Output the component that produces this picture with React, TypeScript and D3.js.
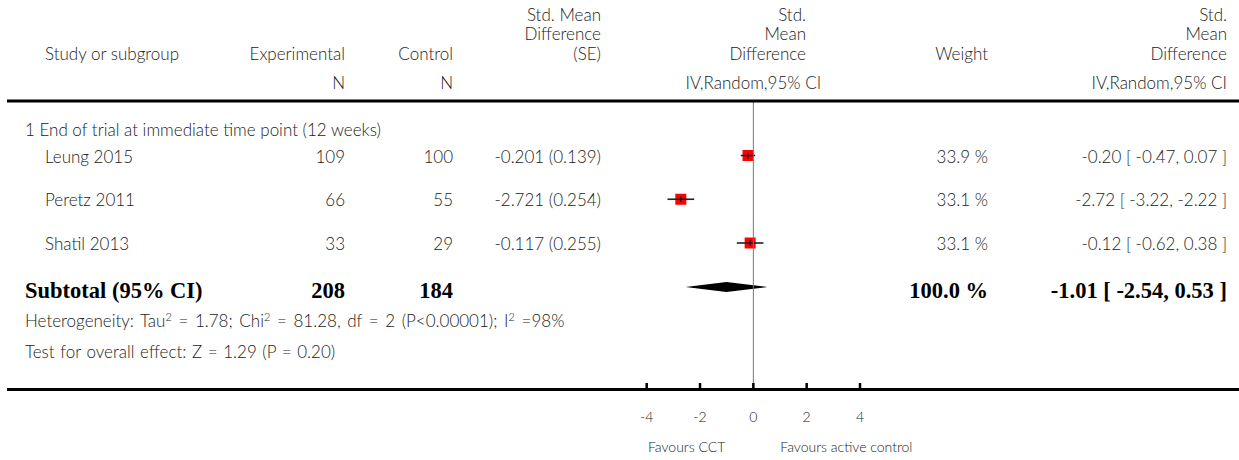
import React from "react";
import * as d3 from "d3";

const studies = ["Leung 2015", "Peretz 2011", "Shatil 2013"];
const expN = [109, 66, 33];
const ctrlN = [100, 55, 29];
const smd = ["-0.201", "-2.721", "-0.117"];
const se = ["0.139", "0.254", "0.255"];
const weights = ["33.9", "33.1", "33.1"];
const est = [-0.2, -2.72, -0.12];
const ciLow = [-0.47, -3.22, -0.62];
const ciHigh = [0.07, -2.22, 0.38];
const subtotalN = [208, 184];
const subtotalEst = [-1.01, -2.54, 0.53];
const axisTicks = [-4, -2, 0, 2, 4];

const W = 1239;
const H = 460;
const sans = "Lato, 'Open Sans', sans-serif";
const serif = "'Liberation Serif', 'DejaVu Serif', serif";
const ink = "#222";

const fmt = (v: number) => v.toFixed(2);

export default function App() {
  const x = d3.scaleLinear().domain([-4, 4]).range([646.7, 860]);
  const y = d3.scalePoint<string>().domain(studies).range([155.5, 243]);
  const fs = 17;

  // pooled estimate diamond
  const diamond =
    `M${x(subtotalEst[1])},287 L${x(subtotalEst[0])},282 ` +
    `L${x(subtotalEst[2])},287 L${x(subtotalEst[0])},292 Z`;

  return (
    <svg
      width={W}
      height={H}
      style={{ position: "absolute", left: 0, top: 0, background: "#fff" }}
    >
      <g fontFamily={sans} fontSize={fs} fontWeight={300} fill={ink}>
        {/* header */}
        <text x={45} y={60}>Study or subgroup</text>
        <text x={345} y={60} textAnchor="end">Experimental</text>
        <text x={453} y={60} textAnchor="end">Control</text>
        <text x={601} y={21} textAnchor="end">Std. Mean</text>
        <text x={601} y={40} textAnchor="end">Difference</text>
        <text x={601} y={60} textAnchor="end">(SE)</text>
        <text x={806} y={21} textAnchor="end">Std.</text>
        <text x={806} y={40} textAnchor="end">Mean</text>
        <text x={806} y={60} textAnchor="end">Difference</text>
        <text x={988} y={60} textAnchor="end">Weight</text>
        <text x={1227} y={21} textAnchor="end">Std.</text>
        <text x={1227} y={40} textAnchor="end">Mean</text>
        <text x={1227} y={60} textAnchor="end">Difference</text>
        <text x={345} y={89} textAnchor="end">N</text>
        <text x={453} y={89} textAnchor="end">N</text>
        <text x={x(0)} y={89} textAnchor="middle">IV,Random,95% CI</text>
        <text x={1227} y={89} textAnchor="end">IV,Random,95% CI</text>

        <text x={25} y={136}>1 End of trial at immediate time point (12 weeks)</text>

        {studies.map((s, i) => {
          const cy = y(s)!;
          const ty = cy + 7;
          return (
            <g key={s}>
              <text x={45} y={ty}>{s}</text>
              <text x={345} y={ty} textAnchor="end">{expN[i]}</text>
              <text x={453} y={ty} textAnchor="end">{ctrlN[i]}</text>
              <text x={601} y={ty} textAnchor="end">{`${smd[i]} (${se[i]})`}</text>
              <text x={988} y={ty} textAnchor="end">{`${weights[i]} %`}</text>
              <text x={1227} y={ty} textAnchor="end">
                {`${fmt(est[i])} [ ${fmt(ciLow[i])}, ${fmt(ciHigh[i])} ]`}
              </text>
              <rect x={x(est[i]) - 5.5} y={cy - 5.5} width={11} height={11} fill="#ff0000" />
              <line x1={x(ciLow[i])} x2={x(ciHigh[i])} y1={cy} y2={cy} stroke="#222" strokeWidth={1.6} />
              <line x1={x(est[i])} x2={x(est[i])} y1={cy - 3} y2={cy + 3} stroke="#111" strokeWidth={1} />
            </g>
          );
        })}

        <text x={25} y={327} wordSpacing={2}>
          Heterogeneity: Tau<tspan dy={-6} fontSize={11}>2</tspan>
          <tspan dy={6}> = 1.78; Chi</tspan>
          <tspan dy={-6} fontSize={11}>2</tspan>
          <tspan dy={6}> = 81.28, df = 2 (P&lt;0.00001); I</tspan>
          <tspan dy={-6} fontSize={11}>2</tspan>
          <tspan dy={6}> =98%</tspan>
        </text>
        <text x={25} y={358} wordSpacing={1}>Test for overall effect: Z = 1.29 (P = 0.20)</text>

        {axisTicks.map((t) => (
          <text key={t} x={x(t)} y={422} textAnchor="middle" fontSize={14}>{t}</text>
        ))}
        <text x={x(0) - 28} y={452} textAnchor="end" fontSize={14}>Favours CCT</text>
        <text x={x(0) + 27} y={452} fontSize={14}>Favours active control</text>
      </g>

      <g fontFamily={serif} fontWeight="bold" fontSize={22.5} fill="#000">
        <text x={25} y={298}>Subtotal (95% CI)</text>
        <text x={345} y={298} textAnchor="end">{subtotalN[0]}</text>
        <text x={453} y={298} textAnchor="end">{subtotalN[1]}</text>
        <text x={988} y={298} textAnchor="end">100.0 %</text>
        <text x={1227} y={298} textAnchor="end">
          {`${fmt(subtotalEst[0])} [ ${fmt(subtotalEst[1])}, ${fmt(subtotalEst[2])} ]`}
        </text>
      </g>

      <path d={diamond} fill="#000" />

      {/* line of no effect */}
      <line x1={x(0)} x2={x(0)} y1={101} y2={389} stroke="#777" strokeWidth={1} />

      {/* rules and axis */}
      <line x1={7} x2={W} y1={101} y2={101} stroke="#000" strokeWidth={3} />
      <line x1={7} x2={W} y1={389.5} y2={389.5} stroke="#000" strokeWidth={3} />
      {axisTicks.map((t) => (
        <line key={t} x1={x(t)} x2={x(t)} y1={383} y2={389} stroke="#000" strokeWidth={2.5} />
      ))}
    </svg>
  );
}
